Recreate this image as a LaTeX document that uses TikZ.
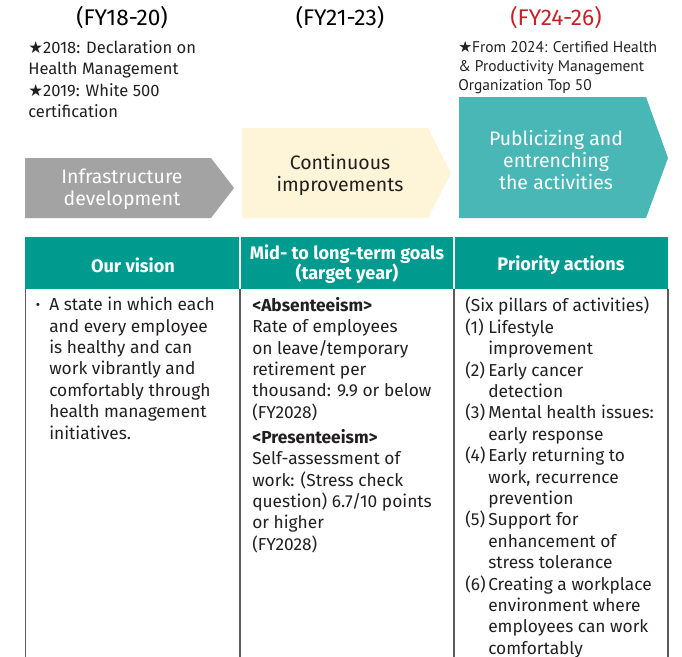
\documentclass[tikz,border=0pt]{standalone}
\usepackage{fontspec}
\setmainfont{Fira Sans}
\newfontfamily\notefont{PT Sans}
\newfontfamily\symfont{DejaVu Sans}
\definecolor{arrgray}{HTML}{A3A3A3}
\definecolor{arrcream}{HTML}{FEF4D8}
\definecolor{arrteal}{HTML}{4AB7B7}
\definecolor{hdrteal}{HTML}{009B8F}
\definecolor{fyred}{HTML}{C4222B}
\definecolor{rule}{HTML}{5A5A5A}
\definecolor{ink}{HTML}{231F20}
\newcommand\starsym{{\symfont\char"2605}}
\newcommand\numlab[1]{\makebox[17.25pt][l]{#1}}
\newcommand\hang{\hspace*{17.25pt}}
\tikzset{
  heading/.style={font=\fontsize{17}{20}\selectfont, inner sep=0pt},
  note/.style={font=\fontsize{12.4}{16.1}\selectfont, text=ink, align=left, anchor=north west, inner sep=0pt},
  smallnote/.style={font=\notefont\fontsize{11.6}{14}\selectfont, text=ink, align=left, anchor=north west, inner sep=0pt},
  arrowtext/.style={font=\fontsize{14.6}{16.4}\selectfont, align=center, inner sep=0pt},
  hdrtext/.style={font=\bfseries\fontsize{13.6}{15}\selectfont, text=white, align=center, inner sep=0pt},
  body/.style={font=\fontsize{13}{16.05}\selectfont, text=ink, align=left, anchor=north west, inner sep=0pt},
  bulletmark/.style={font=\fontsize{10}{10}\selectfont, text=ink, anchor=center, inner sep=0pt},
  colrule/.style={draw=rule, line width=0.9pt},
}
\begin{document}
\begin{tikzpicture}[x=0.75pt,y=-0.75pt]
\useasboundingbox (0,0) rectangle (682,657);
% headings
\node[heading] (h1) at (122,18) {(FY18-20)};
\node[heading] (h2) at (340,18) {(FY21-23)};
\node[heading, text=fyred] (h3) at (556,18) {(FY24-26)};
% notes
\node[note] (n1) at (28,40) {\starsym2018: Declaration on\\Health Management\\\starsym2019: White 500\\certification};
\node[smallnote] (n3) at (458,41.5) {\starsym From 2024: Certified Health\\\& Productivity Management\\Organization Top 50};
% arrows
\fill[arrgray] (25,158) -- (211,158) -- (234,188) -- (211,218) -- (25,218) -- cycle;
\fill[arrcream] (242,128) -- (428,128) -- (451,173) -- (428,218) -- (242,218) -- cycle;
\fill[arrteal] (459,97) -- (646,97) -- (668,158) -- (646,218) -- (459,218) -- cycle;
\node[arrowtext, text=white] (a1) at (122,189) {Infrastructure\\development};
\node[arrowtext, text=ink] (a2) at (340,175) {Continuous\\improvements};
\node[arrowtext, text=white] (a3) at (556,160) {Publicizing and\\entrenching\\the activities};
% table header
\fill[hdrteal] (25,237) rectangle (668,289);
\draw[white, line width=1.1pt] (240,237) -- (240,289) (454,237) -- (454,289);
\node[hdrtext] (c1) at (133,265) {Our vision};
\node[hdrtext] (c2) at (347,264) {Mid- to long-term goals\\(target year)};
\node[hdrtext] (c3) at (561,265) {Priority actions};
% column rules
\draw[colrule] (25.5,289) -- (25.5,657);
\draw[colrule] (240,289) -- (240,657);
\draw[colrule] (454,289) -- (454,657);
\draw[colrule] (668,289) -- (668,657);
% body
\node[bulletmark] (bul) at (38,306) {•};
\node[body] (b1) at (49,297) {A state in which each\\and every employee\\is healthy and can\\work vibrantly and\\comfortably through\\health management\\initiatives.};
\node[body] (b2) at (252,297) {\textbf{<Absenteeism>}\\Rate of employees\\on leave/temporary\\retirement per\\thousand: 9.9 or below\\(FY2028)\\[2.7pt]\textbf{<Presenteeism>}\\Self-assessment of\\work: (Stress check\\question) 6.7/10 points\\or higher\\(FY2028)};
\node[body] (b3) at (465,297) {(Six pillars of activities)\\\numlab{(1)}Lifestyle\\\hang improvement\\\numlab{(2)}Early cancer\\\hang detection\\\numlab{(3)}Mental health issues:\\\hang early response\\\numlab{(4)}Early returning to\\\hang work, recurrence\\\hang prevention\\\numlab{(5)}Support for\\\hang enhancement of\\\hang stress tolerance\\\numlab{(6)}Creating a workplace\\\hang environment where\\\hang employees can work\\\hang comfortably};
\end{tikzpicture}
\end{document}
